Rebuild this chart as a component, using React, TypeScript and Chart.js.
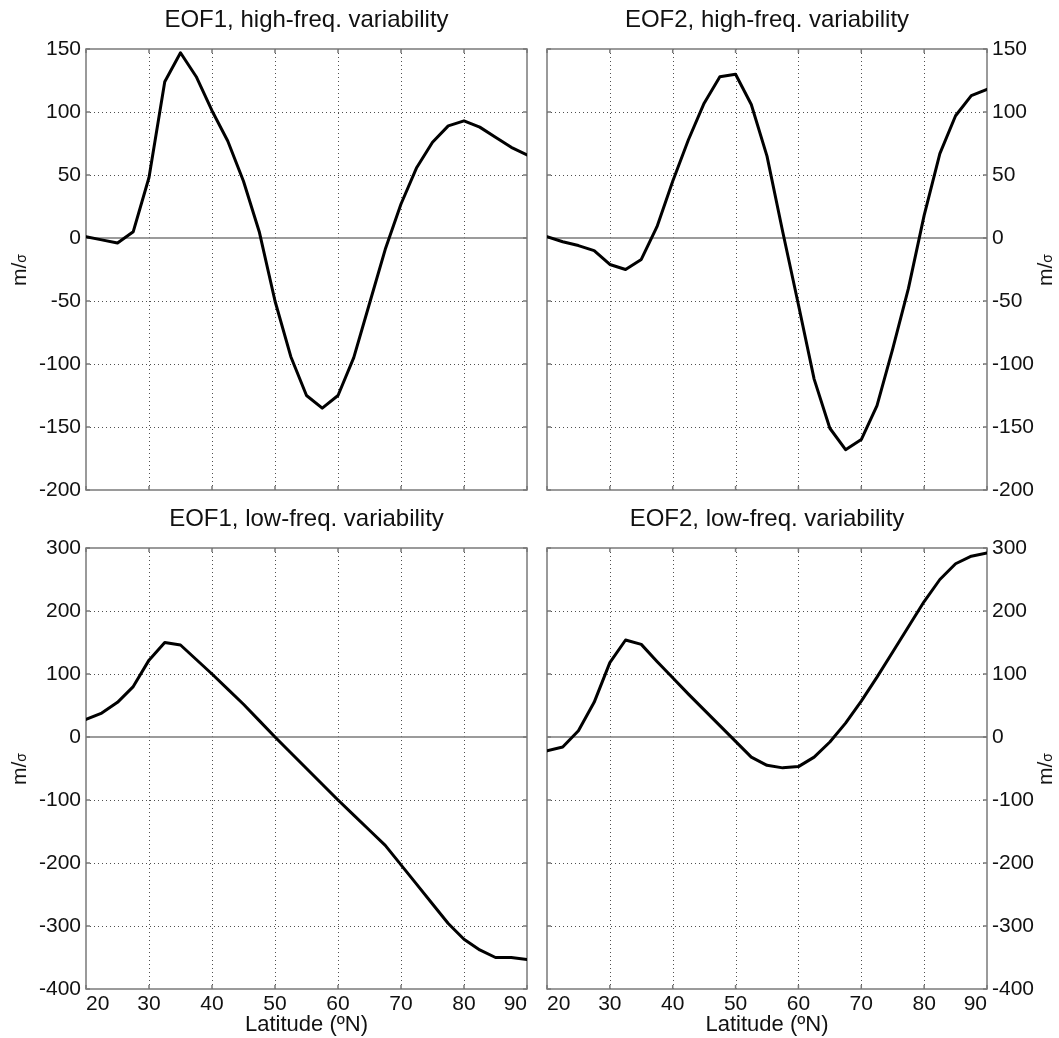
import React, { useEffect, useRef } from 'react';
import { Chart, registerables } from 'chart.js';

Chart.register(...registerables);

// ---------- data ----------
const latitudes = [20, 22.5, 25, 27.5, 30, 32.5, 35, 37.5, 40, 42.5, 45, 47.5, 50, 52.5, 55, 57.5, 60, 62.5, 65, 67.5, 70, 72.5, 75, 77.5, 80, 82.5, 85, 87.5, 90];

const eof1High = [1, -1.5, -4, 5, 48, 124, 147, 128, 101, 77, 45, 5, -50, -94, -125, -135, -125, -95, -52, -9, 27, 56, 76, 89, 93, 88, 80, 72, 66];
const eof2High = [1, -3, -6, -10, -21, -25, -17, 9, 45, 78, 107, 128, 130, 106, 65, 5, -53, -112, -151, -168, -160, -133, -88, -40, 18, 67, 97, 113, 118];
const eof1Low = [28, 38, 55, 80, 122, 150, 146, 123, 100, 76, 52, 26, 0, -25, -50, -75, -100, -124, -148, -172, -203, -234, -265, -296, -321, -338, -350, -350, -353];
const eof2Low = [-22, -16, 10, 55, 118, 154, 147, 120, 94, 68, 43, 18, -7, -32, -45, -49, -47, -32, -8, 22, 57, 95, 135, 175, 215, 250, 275, 287, 292];

const xTicks = [20, 30, 40, 50, 60, 70, 80, 90];
const yTicksHigh = [-200, -150, -100, -50, 0, 50, 100, 150];
const yTicksLow = [-400, -300, -200, -100, 0, 100, 200, 300];

const titles = [
  'EOF1, high-freq. variability',
  'EOF2, high-freq. variability',
  'EOF1, low-freq. variability',
  'EOF2, low-freq. variability',
];
const xTitle = 'Latitude (ºN)';

// ---------- layout ----------
const W = 1059;
const H = 1038;
const FONT = '"Liberation Sans", Arial, Helvetica, sans-serif';

type PanelCfg = {
  title: string;
  values: number[];
  yTicks: number[];
  side: 'left' | 'right';
  bottom: boolean;
  area: { left: number; right: number; top: number; bottom: number };
};

const leftCol = { left: 86, right: 527 };
const rightCol = { left: 547, right: 987 };
const topRow = { top: 49, bottom: 490 };
const botRow = { top: 548, bottom: 989 };

const panels: PanelCfg[] = [
  { title: titles[0], values: eof1High, yTicks: yTicksHigh, side: 'left', bottom: false, area: { ...leftCol, ...topRow } },
  { title: titles[1], values: eof2High, yTicks: yTicksHigh, side: 'right', bottom: false, area: { ...rightCol, ...topRow } },
  { title: titles[2], values: eof1Low, yTicks: yTicksLow, side: 'left', bottom: true, area: { ...leftCol, ...botRow } },
  { title: titles[3], values: eof2Low, yTicks: yTicksLow, side: 'right', bottom: true, area: { ...rightCol, ...botRow } },
];

const Y_AXIS_W = 60;
const X_AXIS_H = 49;

const matlabAxes = {
  id: 'matlabAxes',
  beforeDatasetsDraw(chart: any) {
    const { ctx, chartArea: a, scales } = chart;
    const x = scales.x;
    const y = scales.y;
    const L = a.left;
    const R = a.right;
    const T = a.top;
    const B = a.bottom;
    ctx.save();
    // dotted grid
    ctx.lineWidth = 1;
    ctx.strokeStyle = '#505050';
    ctx.setLineDash([1, 3]);
    ctx.beginPath();
    for (const t of x.ticks) {
      if (t.value <= x.min || t.value >= x.max) continue;
      const px = Math.round(x.getPixelForValue(t.value)) + 0.5;
      ctx.moveTo(px, T);
      ctx.lineTo(px, B);
    }
    for (const t of y.ticks) {
      if (t.value <= y.min || t.value >= y.max || t.value === 0) continue;
      const py = Math.round(y.getPixelForValue(t.value)) + 0.5;
      ctx.moveTo(L, py);
      ctx.lineTo(R, py);
    }
    ctx.stroke();
    ctx.setLineDash([]);
    // zero line
    ctx.strokeStyle = '#7a7a7a';
    ctx.lineWidth = 1.5;
    const p0 = y.getPixelForValue(0);
    ctx.beginPath();
    ctx.moveTo(L, p0);
    ctx.lineTo(R, p0);
    ctx.stroke();
    // inner tick marks
    const tl = 4;
    ctx.beginPath();
    for (const t of x.ticks) {
      const px = x.getPixelForValue(t.value);
      ctx.moveTo(px, B);
      ctx.lineTo(px, B - tl);
      ctx.moveTo(px, T);
      ctx.lineTo(px, T + tl);
    }
    for (const t of y.ticks) {
      const py = y.getPixelForValue(t.value);
      ctx.moveTo(L, py);
      ctx.lineTo(L + tl, py);
      ctx.moveTo(R, py);
      ctx.lineTo(R - tl, py);
    }
    ctx.stroke();
    // frame
    ctx.strokeRect(L, T, R - L, B - T);
    ctx.restore();
  },
};

function Panel({ cfg }: { cfg: PanelCfg }) {
  const ref = useRef<HTMLCanvasElement>(null);
  useEffect(() => {
    const a = cfg.area;
    const padding = {
      left: cfg.side === 'left' ? a.left - 86 : a.left,
      right: cfg.side === 'left' ? W - a.right : W - a.right - Y_AXIS_W,
      top: a.top,
      bottom: cfg.bottom ? H - a.bottom - X_AXIS_H : H - a.bottom,
    };
    const tickFont = { family: FONT, size: 21 };
    const chart = new Chart(ref.current as HTMLCanvasElement, {
      type: 'line',
      data: {
        datasets: [
          {
            data: latitudes.map((lat, i) => ({ x: lat, y: cfg.values[i] })),
            borderColor: '#000000',
            borderWidth: 3,
            pointRadius: 0,
            tension: 0,
            fill: false,
            borderJoinStyle: 'round',
            borderCapStyle: 'round',
          },
        ],
      },
      options: {
        animation: false,
        responsive: false,
        maintainAspectRatio: false,
        devicePixelRatio: 1,
        events: [],
        layout: { padding },
        plugins: {
          legend: { display: false },
          tooltip: { enabled: false },
          title: { display: false },
        },
        scales: {
          x: {
            type: 'linear',
            position: 'bottom',
            min: xTicks[0],
            max: xTicks[xTicks.length - 1],
            afterBuildTicks: (s: any) => {
              s.ticks = xTicks.map((v) => ({ value: v }));
            },
            afterFit: (s: any) => {
              s.height = cfg.bottom ? X_AXIS_H : 0;
            },
            ticks: {
              display: cfg.bottom,
              align: 'inner',
              padding: 3,
              autoSkip: false,
              maxRotation: 0,
              font: tickFont,
              color: '#111111',
            },
            grid: { display: false, drawTicks: false },
            border: { display: false },
            title: {
              display: cfg.bottom,
              text: xTitle,
              font: { family: FONT, size: 22 },
              color: '#111111',
              padding: { top: 0, bottom: 0 },
            },
          },
          y: {
            type: 'linear',
            position: cfg.side,
            min: cfg.yTicks[0],
            max: cfg.yTicks[cfg.yTicks.length - 1],
            afterBuildTicks: (s: any) => {
              s.ticks = cfg.yTicks.map((v) => ({ value: v }));
            },
            afterFit: (s: any) => {
              s.width = cfg.side === 'left' ? 86 : Y_AXIS_W;
            },
            ticks: {
              padding: 5,
              autoSkip: false,
              font: tickFont,
              color: '#111111',
            },
            grid: { display: false, drawTicks: false },
            border: { display: false },
          },
        },
      } as any,
      plugins: [matlabAxes],
    });
    return () => chart.destroy();
  }, [cfg]);
  return (
    <canvas
      ref={ref}
      width={W}
      height={H}
      style={{ position: 'absolute', left: 0, top: 0, width: W, height: H }}
    />
  );
}

export default function App() {
  return (
    <div
      style={{
        position: 'absolute',
        left: 0,
        top: 0,
        width: W,
        height: H,
        background: '#ffffff',
        fontFamily: FONT,
        color: '#111111',
        overflow: 'hidden',
      }}
    >
      {panels.map((p, i) => (
        <Panel key={i} cfg={p} />
      ))}
      {panels.map((p, i) => {
        const cx = (p.area.left + p.area.right) / 2;
        return (
          <div
            key={'t' + i}
            style={{
              position: 'absolute',
              left: cx - 250,
              width: 500,
              top: p.area.top - 42,
              textAlign: 'center',
              fontSize: 24,
              lineHeight: '24px',
              whiteSpace: 'nowrap',
            }}
          >
            {p.title}
          </div>
        );
      })}
      {panels.map((p, i) => {
        const cy = (p.area.top + p.area.bottom) / 2;
        const cx = p.side === 'left' ? 20 : 1046;
        return (
          <div
            key={'y' + i}
            style={{
              position: 'absolute',
              left: cx,
              top: cy,
              transform: 'translate(-50%, -50%) rotate(-90deg)',
              fontSize: 21,
              lineHeight: '21px',
              whiteSpace: 'nowrap',
            }}
          >
            m/<span style={{ fontSize: 14 }}>σ</span>
          </div>
        );
      })}
    </div>
  );
}
